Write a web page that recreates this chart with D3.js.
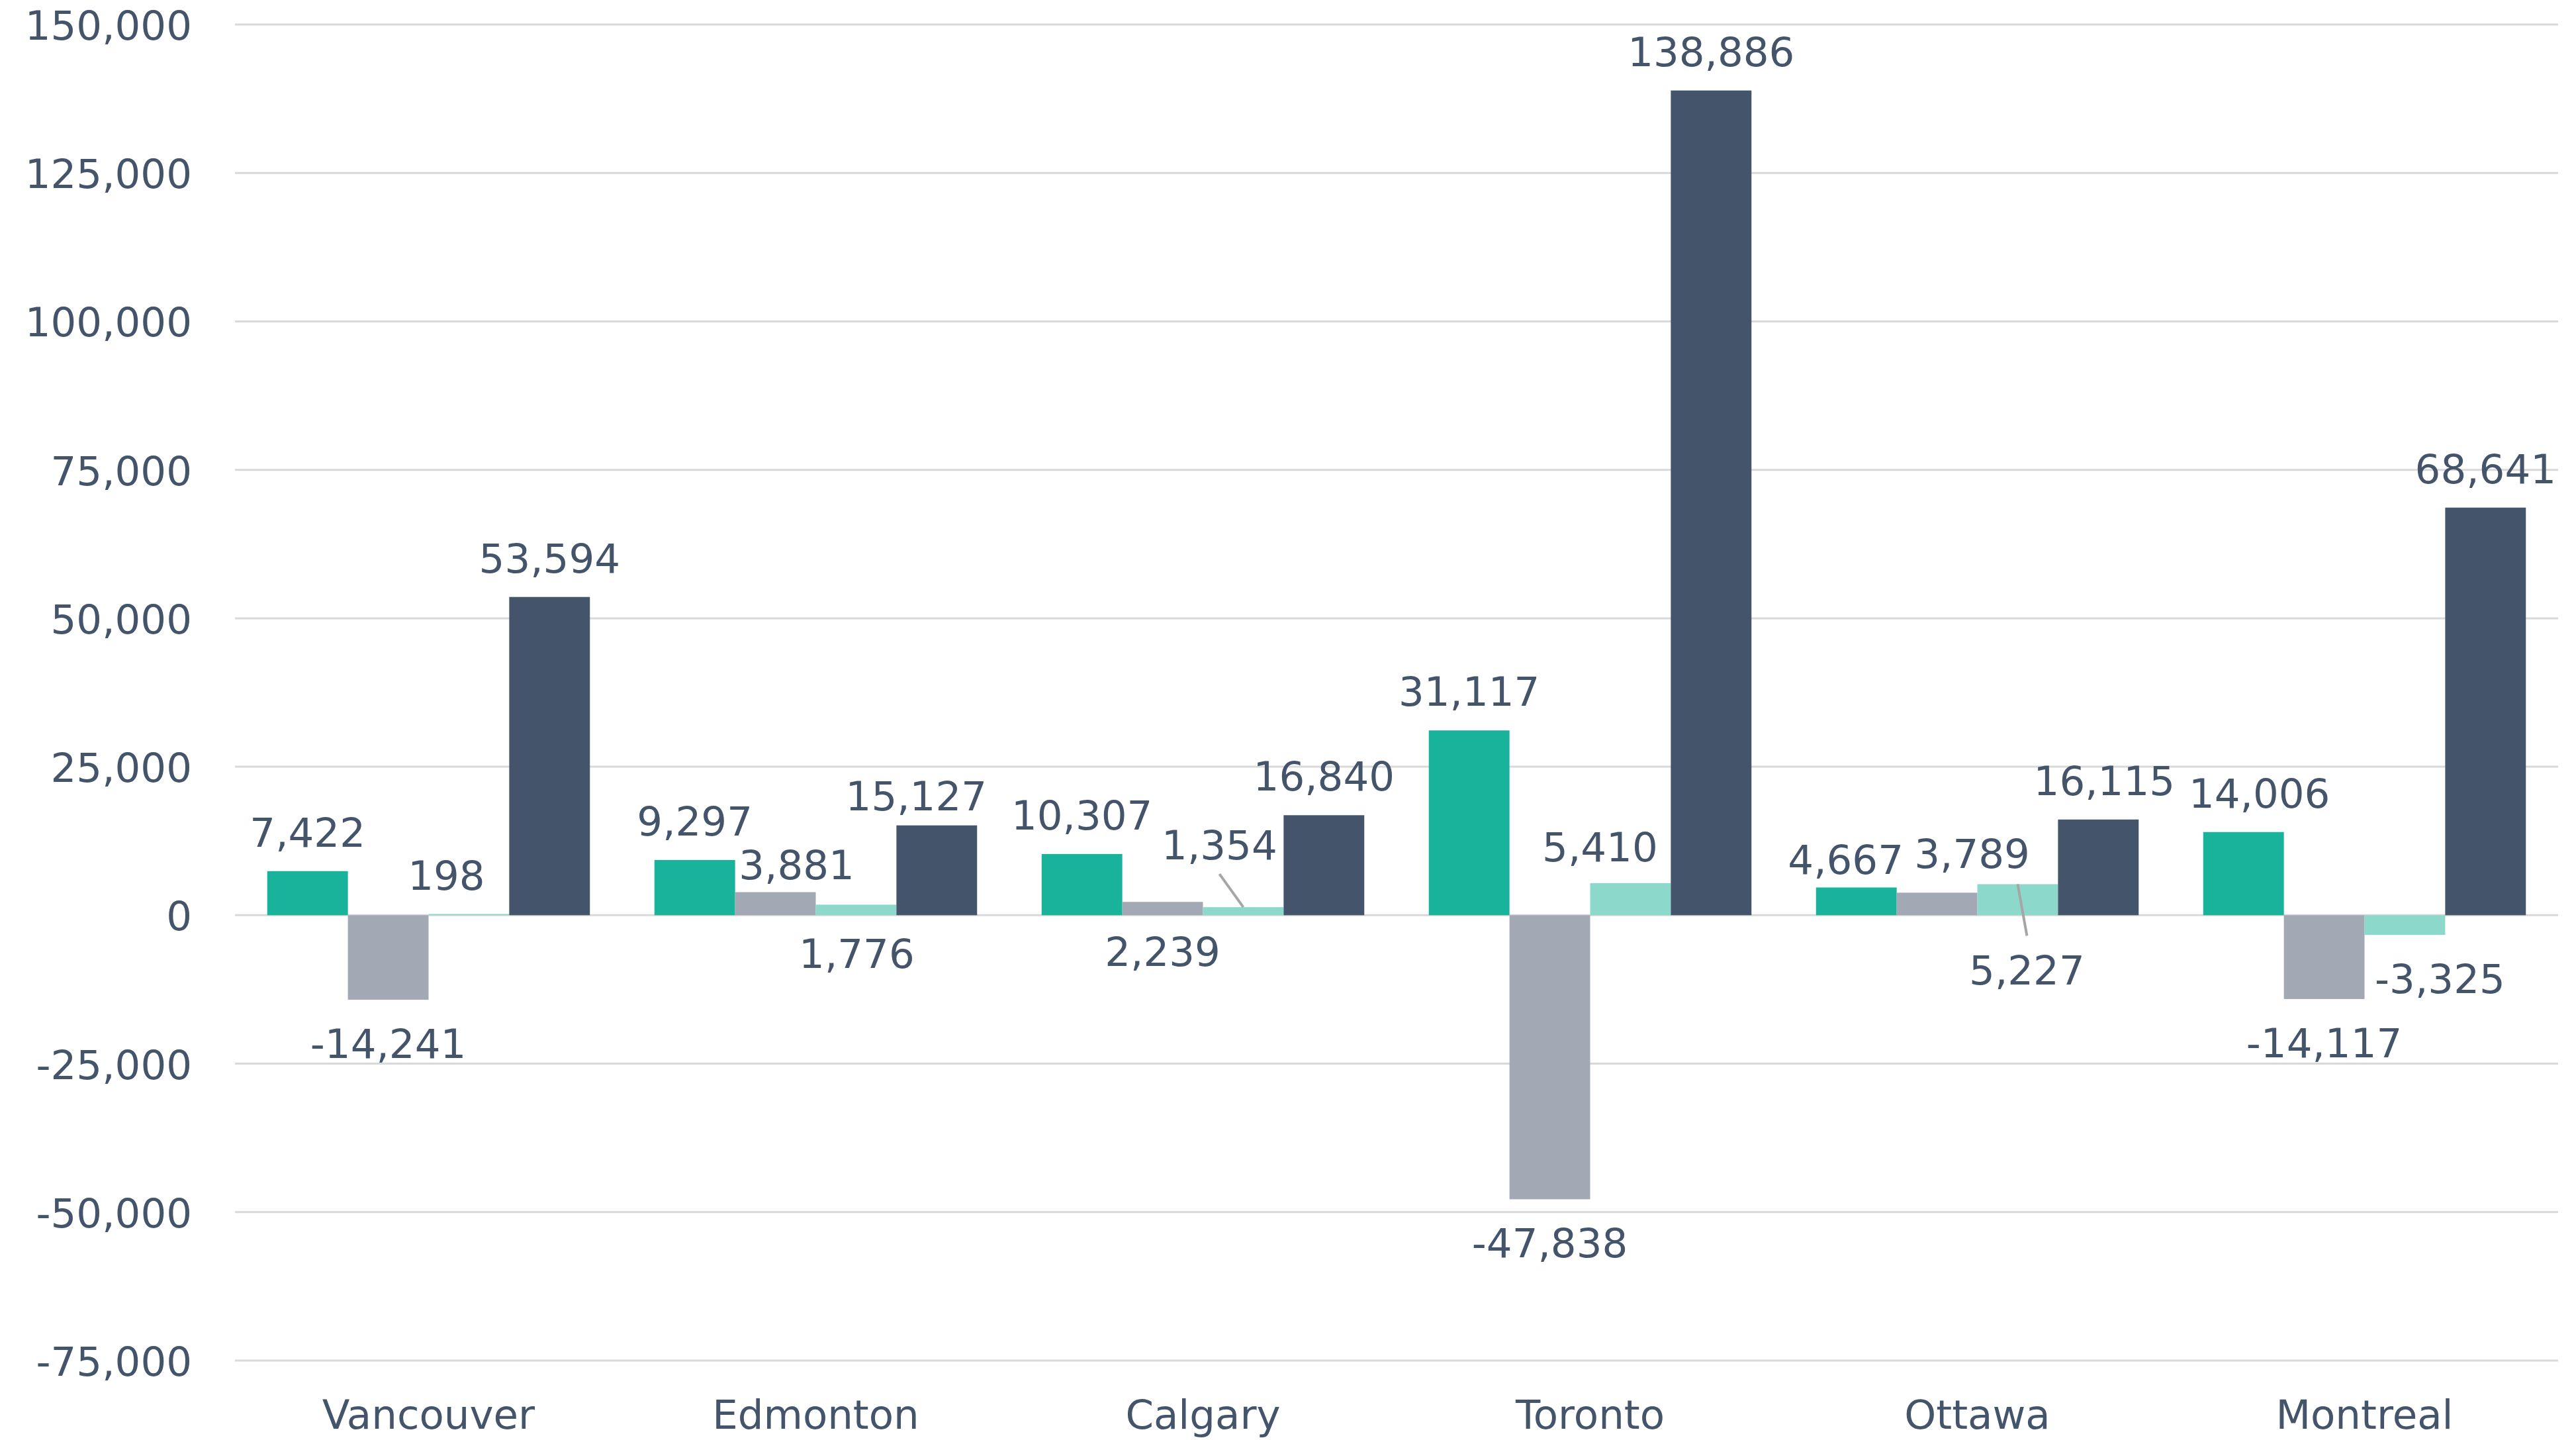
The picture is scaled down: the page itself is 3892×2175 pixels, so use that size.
<!DOCTYPE html>
<html>
<head>
<meta charset="utf-8">
<script src="https://d3js.org/d3.v7.min.js"></script>
<style>
  body { margin: 0; background: #fff; }
  text { font-family: Verdana, "DejaVu Sans", sans-serif; fill: #44546a; }
</style>
</head>
<body>
<div id="chart"></div>
<script>
// data
const cities = ["Vancouver", "Edmonton", "Calgary", "Toronto", "Ottawa", "Montreal"];
const s1 = [7422, 9297, 10307, 31117, 4667, 14006];
const s2 = [-14241, 3881, 2239, -47838, 3789, -14117];
const s3 = [198, 1776, 1354, 5410, 5227, -3325];
const s4 = [53594, 15127, 16840, 138886, 16115, 68641];
const yTicks = [-75000, -50000, -25000, 0, 25000, 50000, 75000, 100000, 125000, 150000];

const colors = ["#19b39b", "#a2a9b4", "#8cd9cc", "#44546a"];

// manual label nudges (px) — labels that were dragged in the original
const nudge = {
  "Vancouver-2": [-34, 0],
  "Edmonton-1": [32, 17], "Edmonton-2": [1, 133], "Edmonton-3": [-31, 14],
  "Calgary-1": [0, 134], "Calgary-2": [-36, -35],
  "Toronto-2": [-46, 4],
  "Ottawa-0": [-16, 17], "Ottawa-1": [53, 0], "Ottawa-2": [14, 189], "Ottawa-3": [9, 0],
  "Montreal-0": [24, 0], "Montreal-2": [53, 0]
};
const leaders = ["Calgary-2", "Ottawa-2"];

const W = 3892, H = 2175;
const fmt = d3.formatLocale({ decimal: ".", thousands: ",", grouping: [3], currency: ["", ""], minus: "-" }).format(",");

const svg = d3.select("#chart").append("svg")
  .attr("width", W).attr("height", H);

const y = d3.scaleLinear().domain([-75000, 150000]).range([2055, 37]);
const x0 = d3.scaleBand().domain(cities).range([355, 3865]).padding(0);
const x1 = d3.scaleBand().domain(d3.range(4)).range([0, x0.bandwidth()])
  .paddingInner(0).paddingOuter(0.4);

// grid
svg.append("g").selectAll("line").data(yTicks).join("line")
  .attr("x1", 355).attr("x2", 3865)
  .attr("y1", d => y(d)).attr("y2", d => y(d))
  .attr("stroke", "#d9d9d9").attr("stroke-width", 3);

svg.append("g").selectAll("text").data(yTicks).join("text")
  .attr("x", 290).attr("y", d => y(d) + 23)
  .attr("text-anchor", "end")
  .style("font-size", "61px")
  .text(d => fmt(d));

const all = [s1, s2, s3, s4];
const rows = [];
cities.forEach((c, i) => {
  all.forEach((s, j) => rows.push({ city: c, k: j, v: s[i] }));
});

svg.append("g").selectAll("rect").data(rows).join("rect")
  .attr("x", d => x0(d.city) + x1(d.k))
  .attr("width", x1.bandwidth())
  .attr("y", d => y(Math.max(0, d.v)))
  .attr("height", d => Math.abs(y(d.v) - y(0)))
  .attr("fill", d => colors[d.k]);

// labels
rows.forEach(d => {
  const n = nudge[d.city + "-" + d.k] || [0, 0];
  const cx = x0(d.city) + x1(d.k) + x1.bandwidth() / 2;
  d.bx = cx;
  d.by = y(d.v);
  d.lx = cx + n[0];
  d.ly = (d.v >= 0 ? y(d.v) - 37 : y(d.v) + 88) + n[1];
});

svg.append("g").selectAll("line").data(rows.filter(d => leaders.includes(d.city + "-" + d.k))).join("line")
  .attr("x1", d => d.bx).attr("y1", d => d.by)
  .attr("x2", d => d.lx)
  .attr("y2", d => d.ly < d.by ? d.ly + 22 : d.ly - 46 - 28)
  .attr("stroke", "#a6a6a6").attr("stroke-width", 4);

svg.append("g").selectAll("text").data(rows).join("text")
  .attr("x", d => d.lx).attr("y", d => d.ly)
  .attr("text-anchor", "middle")
  .style("font-size", "61px")
  .text(d => fmt(d.v));

svg.append("g").selectAll("text").data(cities).join("text")
  .attr("x", d => x0(d) + x0.bandwidth() / 2).attr("y", 2158)
  .attr("text-anchor", "middle")
  .style("font-size", "61px")
  .text(d => d);
</script>
</body>
</html>
